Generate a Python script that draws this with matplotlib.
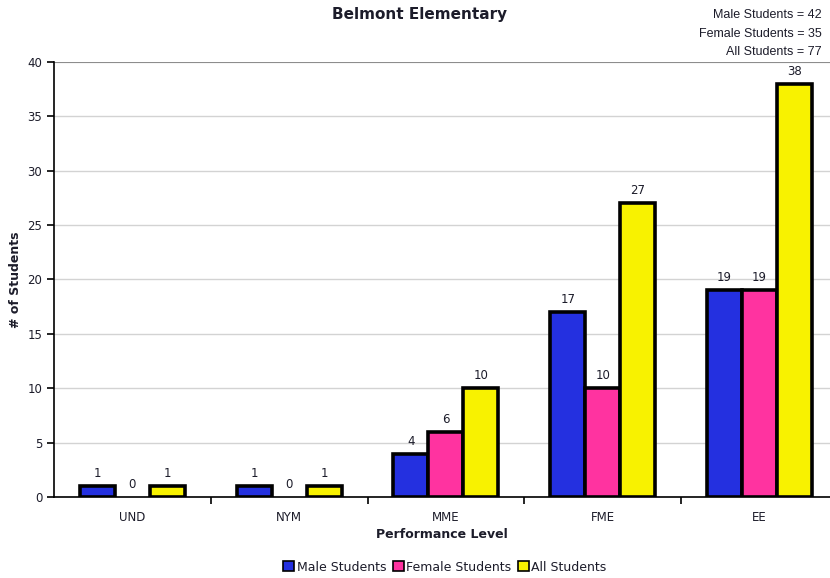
import matplotlib
matplotlib.use("Agg")
import matplotlib.pyplot as plt
import numpy as np
from matplotlib.patches import Patch

categories = ["UND", "NYM", "MME", "FME", "EE"]
male = [1, 1, 4, 17, 19]
female = [0, 0, 6, 10, 19]
all_students = [1, 1, 10, 27, 38]
series_names = ["Male Students", "Female Students", "All Students"]
colors = ["#2430E0", "#FF33A0", "#F8F200"]
totals = ["Male Students = 42", "Female Students = 35", "All Students = 77"]

text_color = "#1C1C2A"

fig = plt.figure(figsize=(8.3, 5.78), dpi=100)
ax = fig.add_axes([0.065, 0.140, 0.935, 0.753])

x = np.arange(len(categories))
width = 0.223
offsets = [-width, 0, width]
for vals, off, col in zip([male, female, all_students], offsets, colors):
    for xi, v in zip(x, vals):
        if v > 0:
            ax.bar(xi + off, v, width, color=col, edgecolor="black",
                   linewidth=2.6, zorder=3)
        ax.text(xi + off, v + 0.55, str(v), ha="center", va="bottom",
                fontsize=8.5, family="DejaVu Sans", color=text_color, zorder=4)

ax.set_xlim(-0.5, 4.45)
ax.set_ylim(0, 40)
ax.set_yticks(np.arange(0, 41, 5))
ax.yaxis.grid(True, color="#D3D3D3", linewidth=1.0, zorder=0)
ax.axhline(40, color="#808080", linewidth=1.2, zorder=1)
ax.set_axisbelow(True)

ax.set_xticks(x)
ax.set_xticklabels(categories, fontsize=8.5, family="DejaVu Sans", color=text_color)
ax.tick_params(axis="x", length=0, pad=10)
ax.set_xticks(np.arange(0.5, 4.5, 1.0), minor=True)
ax.tick_params(axis="x", which="minor", length=5, width=1.2, direction="out")
ax.tick_params(axis="y", labelsize=8.5, length=5, width=1.2, direction="out",
               labelcolor=text_color)
for lab in ax.get_yticklabels():
    lab.set_family("DejaVu Sans")

for s in ["top", "right"]:
    ax.spines[s].set_visible(False)
ax.spines["left"].set_linewidth(1.2)
ax.spines["bottom"].set_linewidth(1.2)

ax.set_ylabel("# of Students", fontsize=9, fontweight="bold", family="DejaVu Sans",
              labelpad=4, color=text_color)
ax.set_xlabel("Performance Level", fontsize=9, fontweight="bold", family="DejaVu Sans",
              labelpad=3, color=text_color)

fig.text(0.506, 0.975, "Belmont Elementary", ha="center", va="center",
         fontsize=11, fontweight="bold", family="DejaVu Sans", color=text_color)
for i, t in enumerate(totals):
    fig.text(0.990, 0.974 - i * 0.032, t, ha="right", va="center",
             fontsize=9, family="Liberation Sans", color=text_color)

handles = [Patch(facecolor=c, edgecolor="black", linewidth=1.2) for c in colors]
leg = fig.legend(handles, series_names, loc="center", bbox_to_anchor=(0.536, 0.019),
                 ncol=3, frameon=False, handlelength=0.9, handleheight=0.9,
                 handletextpad=0.2, columnspacing=0.5,
                 prop={"family": "DejaVu Sans", "size": 9})
for t in leg.get_texts():
    t.set_color(text_color)

fig.savefig("out.png", dpi=100)
